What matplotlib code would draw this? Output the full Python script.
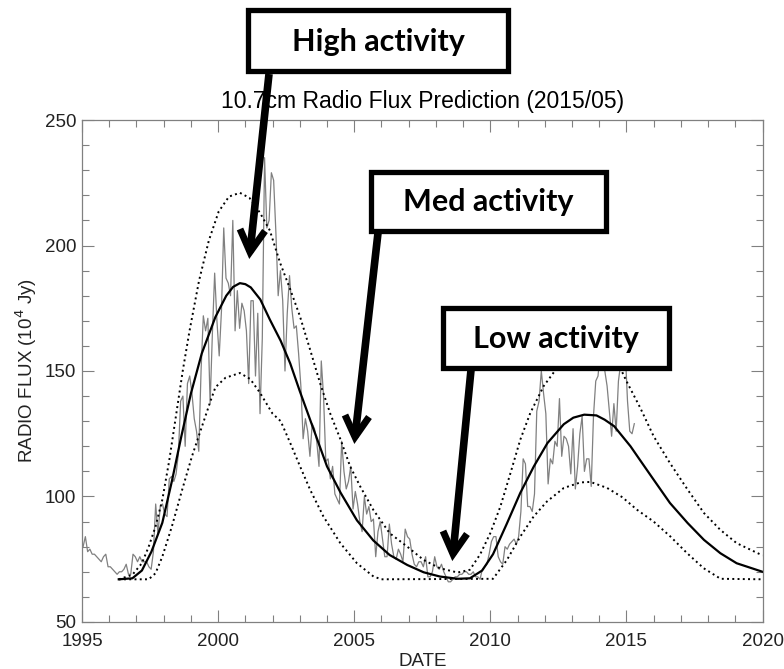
import matplotlib.pyplot as plt
from matplotlib.patches import Rectangle
from matplotlib.ticker import MultipleLocator
import numpy as np

plt.rcParams['font.family'] = ['Liberation Sans', 'DejaVu Sans']

# observed monthly 10.7cm flux, Jan 1995 .. Apr 2015
flux_obs = [
    80, 84, 78, 79, 77, 77, 76, 75, 74, 76, 77, 72,          # 1995
    72, 71, 70, 69, 70, 70, 71, 73, 69, 69, 77, 76,          # 1996
    74, 76, 74, 74, 74, 72, 71, 78, 97, 85, 96, 97,          # 1997
    93, 92, 107, 108, 106, 109, 117, 138, 140, 120, 145, 148,  # 1998
    141, 131, 126, 118, 150, 172, 166, 171, 137, 165, 189, 170,  # 1999
    156, 174, 207, 187, 185, 180, 210, 166, 182, 167, 177, 174,  # 2000
    166, 145, 178, 178, 148, 173, 133, 163, 235, 207, 210, 229,  # 2001
    226, 205, 180, 190, 178, 150, 173, 188, 175, 167, 168, 157,  # 2002
    144, 123, 131, 126, 116, 129, 127, 122, 112, 154, 140, 114,  # 2003
    115, 107, 112, 101, 99, 97, 122, 110, 103, 106, 112, 95,     # 2004
    102, 97, 90, 86, 100, 93, 96, 90, 91, 76, 86, 90,            # 2005
    83, 76, 76, 89, 81, 76, 75, 79, 77, 74, 87, 84,              # 2006
    83, 77, 73, 72, 74, 74, 72, 76, 68, 68, 70, 76,              # 2007
    72, 71, 73, 70, 68, 66, 66, 67, 68, 68, 69, 69,              # 2008
    70, 70, 69, 69, 70, 68, 68, 67, 71, 72, 73, 77,              # 2009
    82, 84, 84, 76, 74, 73, 80, 79, 81, 82, 83, 81,              # 2010
    84, 94, 115, 113, 96, 96, 94, 101, 134, 138, 150, 141,       # 2011
    133, 105, 115, 113, 122, 120, 139, 116, 124, 123, 120, 109,  # 2012
    127, 103, 112, 125, 132, 110, 115, 115, 104, 132, 146, 148,  # 2013
    158, 170, 150, 144, 134, 124, 137, 126, 146, 153, 155, 158,  # 2014
    138, 126, 125, 129,                                          # 2015
]
obs_start = 1995.04

# predicted mean cycle
mid_years = [1996.35, 1996.85, 1997.2, 1997.55, 1997.95, 1998.3, 1998.65, 1999.0, 1999.4,
             1999.9, 2000.3, 2000.55, 2000.8, 2001.0, 2001.2, 2001.55, 2001.9, 2002.3, 2002.65,
             2003.0, 2003.5, 2004.0, 2004.5, 2005.1, 2005.7, 2006.3, 2006.95, 2007.55, 2008.15,
             2008.8, 2009.25, 2009.7, 2010.1, 2010.6, 2011.1, 2011.6, 2012.1, 2012.7, 2013.05,
             2013.45, 2013.9, 2014.2, 2014.55, 2015.15, 2015.5, 2016.0, 2016.6, 2017.25, 2017.85,
             2018.45, 2019.05, 2020.0]
mid_flux = [67, 67.4, 70.5, 78, 89.5, 106, 124, 141, 157, 171.5, 180, 183.5, 185, 184.6, 183.3,
            178.5, 170.5, 162, 153, 142, 127, 112, 101.5, 90.5, 82.5, 76.7, 72.7, 69.8, 68.1,
            67.2, 67.4, 70.5, 77, 89, 101.4, 112, 121.3, 128.8, 131.4, 132.6, 132.3, 130.6, 128,
            120, 114.5, 106.7, 97.4, 89.4, 82.7, 77.4, 73.4, 70]

# upper bound
up_years = [1996.35, 1996.85, 1997.2, 1997.45, 1997.7, 1997.95, 1998.2, 1998.45, 1998.7,
            1998.95, 1999.3, 1999.66, 2000.02, 2000.4, 2000.8, 2001.15, 2001.54, 2001.9, 2002.28,
            2002.65, 2003.0, 2003.38, 2003.75, 2004.12, 2004.5, 2004.85, 2005.22, 2005.7, 2006.3,
            2006.95, 2007.55, 2008.15, 2008.8, 2009.25, 2009.63, 2010.0, 2010.37, 2010.74, 2011.1,
            2011.47, 2011.96, 2012.45, 2013.0, 2013.6, 2014.2, 2014.8, 2015.0, 2015.5, 2016.0,
            2016.6, 2017.25, 2017.85, 2018.45, 2019.05, 2020.0]
up_flux = [67, 68.8, 73.4, 80, 88, 98.7, 114, 132, 150, 166, 186, 202, 213.5, 219.5, 221, 219,
           213, 206, 193, 182.5, 172, 158.5, 145, 133, 122.6, 112, 104, 94.7, 85.4, 80, 74.7,
           71.4, 69.7, 70.8, 77, 85.4, 96, 109.3, 122.6, 133.3, 144, 151.2, 157, 159.5, 157,
           150.6, 146, 135.5, 124, 113.3, 102.7, 93.4, 86.7, 81.4, 76.5]

# lower bound
low_years = [1996.35, 1997.45, 1997.7, 1997.95, 1998.3, 1998.68, 1999.04, 1999.41, 1999.72,
             1999.9, 2000.27, 2000.8, 2001.18, 2001.54, 2002.0, 2002.3, 2002.65, 2003.01, 2003.38,
             2003.87, 2004.49, 2005.1, 2005.71, 2006.0, 2010.1, 2010.61, 2011.1, 2011.59, 2012.08,
             2012.7, 2013.31, 2013.68, 2014.29, 2014.85, 2015.39, 2016.0, 2016.62, 2017.23,
             2017.84, 2018.46, 2020.0]
low_flux = [67, 67, 69.4, 76, 88, 102.7, 116, 128, 138, 143.5, 147.3, 149.2, 146.8, 141.3, 133,
            130, 121.3, 112, 102.7, 92, 81.4, 73.4, 68.1, 67, 67.2, 74.7, 84, 92, 98, 103.4,
            105.6, 105.8, 103.4, 99.7, 94.7, 90, 84, 77.4, 71.4, 67.2, 67]

fig = plt.figure(figsize=(7.84, 6.69), dpi=100)
ax = fig.add_axes([0.1046, 0.0703, 0.868, 0.7503])

obs_years = obs_start + np.arange(len(flux_obs)) / 12.0
ax.plot(obs_years, flux_obs, color='#808080', lw=0.9)
ax.plot(mid_years, mid_flux, color='black', lw=1.6)
ax.plot(up_years, up_flux, color='black', lw=1.4, linestyle=(0, (1, 1.7)))
ax.plot(low_years, low_flux, color='black', lw=1.4, linestyle=(0, (1, 1.7)))

ax.set_xlim(1995, 2020)
ax.set_ylim(50, 250)
ax.set_xticks(range(1995, 2021, 5))
ax.set_yticks(range(50, 251, 50))
ax.xaxis.set_minor_locator(MultipleLocator(1))
ax.yaxis.set_minor_locator(MultipleLocator(10))
ax.tick_params(which='both', direction='in', top=True, right=True, color='#808080',
               width=0.8, labelsize=13.5, labelcolor='#222222')
ax.tick_params(which='major', length=8.5)
ax.tick_params(which='minor', length=5)
ax.tick_params(axis='x', pad=8)
ax.tick_params(axis='y', pad=4)
for s in ax.spines.values():
    s.set_color('#808080')
    s.set_linewidth(0.9)

ax.set_title('10.7cm Radio Flux Prediction (2015/05)', fontsize=16.5, pad=9)
ax.set_xlabel('DATE', fontsize=13.5, labelpad=2, color='#222222')
ax.set_ylabel('RADIO FLUX (10$^4$ Jy)', fontsize=13.5, labelpad=4, color='#222222')

# overlay in pixel coordinates for the callout boxes and arrows
ov = fig.add_axes([0, 0, 1, 1])
ov.set_xlim(0, 784)
ov.set_ylim(669, 0)
ov.axis('off')
ov.patch.set_alpha(0)

box_labels = ['High activity', 'Med activity', 'Low activity']
box_rects = [(248, 10, 260, 61), (371, 172, 235, 59), (443, 308, 226, 60)]
for lab, (bx, by, bw, bh) in zip(box_labels, box_rects):
    ov.add_patch(Rectangle((bx, by), bw, bh, facecolor='white', edgecolor='black',
                           lw=3.8, joinstyle='miter'))
    ov.text(bx + bw / 2, by + bh / 2 + 1, lab, ha='center', va='center',
            fontsize=22, fontweight='bold', family='Lato')

# arrows: shaft start, tip, left arm end, right arm end
arrows = [
    ((269, 74), (250, 252), (240, 229), (265, 231)),
    ((378, 233), (355, 437), (345, 415), (369, 417)),
    ((471, 370), (453, 554), (443, 531), (467, 534)),
]
for start, tip, arm1, arm2 in arrows:
    ov.plot([start[0], tip[0]], [start[1], tip[1]], color='black', lw=5.5,
            solid_capstyle='butt')
    ov.plot([arm1[0], tip[0], arm2[0]], [arm1[1], tip[1], arm2[1]], color='black', lw=5,
            solid_joinstyle='miter', solid_capstyle='butt')

fig.savefig('out.png', dpi=100)
